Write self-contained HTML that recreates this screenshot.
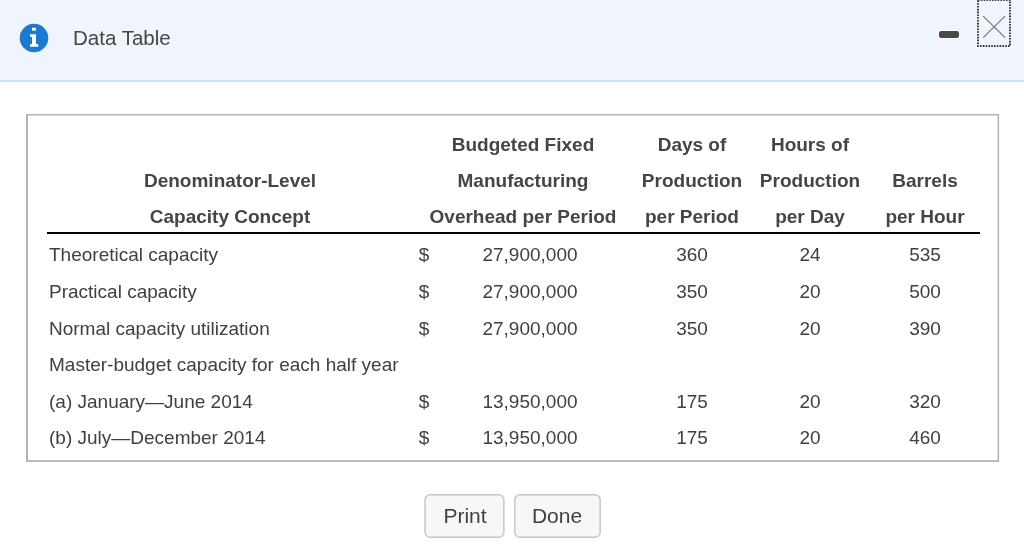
<!DOCTYPE html>
<html><head><meta charset="utf-8"><style>
html,body{margin:0;padding:0;}
body{width:1024px;height:551px;overflow:hidden;background:#fff;position:relative;font-family:"Liberation Sans",sans-serif;}
.hdr{position:absolute;left:0;top:0;width:1024px;height:80px;background:#f0f5fd;border-bottom:2px solid #cbe3f7;}
.t{position:absolute;will-change:transform;white-space:nowrap;font-size:19px;line-height:22px;color:#404040;}
.box{position:absolute;left:26px;top:114px;width:971px;height:346px;border:2px solid #b8b8b8;}
.rule{position:absolute;left:47px;top:232px;width:933px;height:2px;background:#000;}
.btn{position:absolute;top:494px;height:41px;border:1.5px solid #cacaca;border-radius:5px;background:#f7f7f7;box-sizing:content-box;}
</style></head><body>
<div class="hdr"></div>
<svg style="position:absolute;left:19px;top:23px" width="30" height="30" viewBox="0 0 30 30">
<circle cx="15" cy="15" r="14.3" fill="#1a7bd0"/>
<rect x="13" y="4.8" width="4" height="2.8" fill="#fff"/>
<path d="M11 11.3 H17 V21 H19.2 V23.8 H11 V21 H13 V14 H11 Z" fill="#fff"/>
</svg>
<div class="t" style="left:73px;top:27px;font-size:20.5px;line-height:22px;color:#454545">Data Table</div>
<div style="position:absolute;left:939px;top:31px;width:20px;height:6.5px;background:#4a4a4a;border-radius:2px;box-shadow:0 0 0 1px #fff"></div>
<svg style="position:absolute;left:976px;top:-2px" width="37" height="50" viewBox="0 0 37 50">
<rect x="2" y="2" width="32" height="46" fill="none" stroke="#3a3a3a" stroke-width="2" stroke-dasharray="1.6 1.2"/>
<path d="M7.2 18.2 L29 39.7 M29 18.2 L7.2 39.7" stroke="#707070" stroke-width="1.1" fill="none"/>
</svg>
<svg style="position:absolute;left:0;top:0" width="1024" height="551">
<rect x="26" y="114" width="973" height="1.5" fill="#b4b4b4"/>
<rect x="26" y="114" width="2" height="348" fill="#b4b4b4"/>
<rect x="997.6" y="114" width="1.5" height="348" fill="#b4b4b4"/>
<rect x="26" y="460.1" width="973" height="1.8" fill="#b4b4b4"/>
<rect x="425.05" y="494.75" width="78.8" height="42.5" rx="5" fill="#f7f7f7" stroke="#c6c6c6" stroke-width="1.5"/>
<rect x="514.85" y="494.75" width="85.3" height="42.5" rx="5" fill="#f7f7f7" stroke="#c6c6c6" stroke-width="1.5"/>
</svg>
<div class="rule"></div>
<div class="t" style="top:133.5px;left:373.29999999999995px;width:300px;text-align:center;font-weight:bold;color:#454545;">Budgeted Fixed</div>
<div class="t" style="top:170px;left:373.29999999999995px;width:300px;text-align:center;font-weight:bold;color:#454545;">Manufacturing</div>
<div class="t" style="top:206.3px;left:373.29999999999995px;width:300px;text-align:center;font-weight:bold;color:#454545;">Overhead per Period</div>
<div class="t" style="top:133.5px;left:541.9px;width:300px;text-align:center;font-weight:bold;color:#454545;">Days of</div>
<div class="t" style="top:170px;left:541.9px;width:300px;text-align:center;font-weight:bold;color:#454545;">Production</div>
<div class="t" style="top:206.3px;left:541.9px;width:300px;text-align:center;font-weight:bold;color:#454545;">per Period</div>
<div class="t" style="top:133.5px;left:660.4px;width:300px;text-align:center;font-weight:bold;color:#454545;">Hours of</div>
<div class="t" style="top:170px;left:660.4px;width:300px;text-align:center;font-weight:bold;color:#454545;">Production</div>
<div class="t" style="top:206.3px;left:660.4px;width:300px;text-align:center;font-weight:bold;color:#454545;">per Day</div>
<div class="t" style="top:170px;left:774.5px;width:300px;text-align:center;font-weight:bold;color:#454545;">Barrels</div>
<div class="t" style="top:206.3px;left:774.5px;width:300px;text-align:center;font-weight:bold;color:#454545;">per Hour</div>
<div class="t" style="top:170px;left:79.69999999999999px;width:300px;text-align:center;font-weight:bold;color:#454545;">Denominator-Level</div>
<div class="t" style="top:206.3px;left:79.69999999999999px;width:300px;text-align:center;font-weight:bold;color:#454545;">Capacity Concept</div>
<div class="t" style="top:244.3px;left:49px;">Theoretical capacity</div>
<div class="t" style="top:244.3px;left:274.4px;width:300px;text-align:center;">$</div>
<div class="t" style="top:244.3px;left:380.20000000000005px;width:300px;text-align:center;">27,900,000</div>
<div class="t" style="top:244.3px;left:541.9px;width:300px;text-align:center;">360</div>
<div class="t" style="top:244.3px;left:660.3px;width:300px;text-align:center;">24</div>
<div class="t" style="top:244.3px;left:774.5px;width:300px;text-align:center;">535</div>
<div class="t" style="top:280.8px;left:49px;">Practical capacity</div>
<div class="t" style="top:280.8px;left:274.4px;width:300px;text-align:center;">$</div>
<div class="t" style="top:280.8px;left:380.20000000000005px;width:300px;text-align:center;">27,900,000</div>
<div class="t" style="top:280.8px;left:541.9px;width:300px;text-align:center;">350</div>
<div class="t" style="top:280.8px;left:660.3px;width:300px;text-align:center;">20</div>
<div class="t" style="top:280.8px;left:774.5px;width:300px;text-align:center;">500</div>
<div class="t" style="top:317.5px;left:49px;">Normal capacity utilization</div>
<div class="t" style="top:317.5px;left:274.4px;width:300px;text-align:center;">$</div>
<div class="t" style="top:317.5px;left:380.20000000000005px;width:300px;text-align:center;">27,900,000</div>
<div class="t" style="top:317.5px;left:541.9px;width:300px;text-align:center;">350</div>
<div class="t" style="top:317.5px;left:660.3px;width:300px;text-align:center;">20</div>
<div class="t" style="top:317.5px;left:774.5px;width:300px;text-align:center;">390</div>
<div class="t" style="top:354px;left:49px;">Master-budget capacity for each half year</div>
<div class="t" style="top:390.8px;left:49px;">(a) January&mdash;June 2014</div>
<div class="t" style="top:390.8px;left:274.4px;width:300px;text-align:center;">$</div>
<div class="t" style="top:390.8px;left:380.20000000000005px;width:300px;text-align:center;">13,950,000</div>
<div class="t" style="top:390.8px;left:541.9px;width:300px;text-align:center;">175</div>
<div class="t" style="top:390.8px;left:660.3px;width:300px;text-align:center;">20</div>
<div class="t" style="top:390.8px;left:774.5px;width:300px;text-align:center;">320</div>
<div class="t" style="top:427.2px;left:49px;">(b) July&mdash;December 2014</div>
<div class="t" style="top:427.2px;left:274.4px;width:300px;text-align:center;">$</div>
<div class="t" style="top:427.2px;left:380.20000000000005px;width:300px;text-align:center;">13,950,000</div>
<div class="t" style="top:427.2px;left:541.9px;width:300px;text-align:center;">175</div>
<div class="t" style="top:427.2px;left:660.3px;width:300px;text-align:center;">20</div>
<div class="t" style="top:427.2px;left:774.5px;width:300px;text-align:center;">460</div>
<div class="t" style="left:415px;width:100px;text-align:center;top:505px;font-size:21px;color:#404040">Print</div>
<div class="t" style="left:507px;width:100px;text-align:center;top:505px;font-size:21px;color:#404040">Done</div>
</body></html>
